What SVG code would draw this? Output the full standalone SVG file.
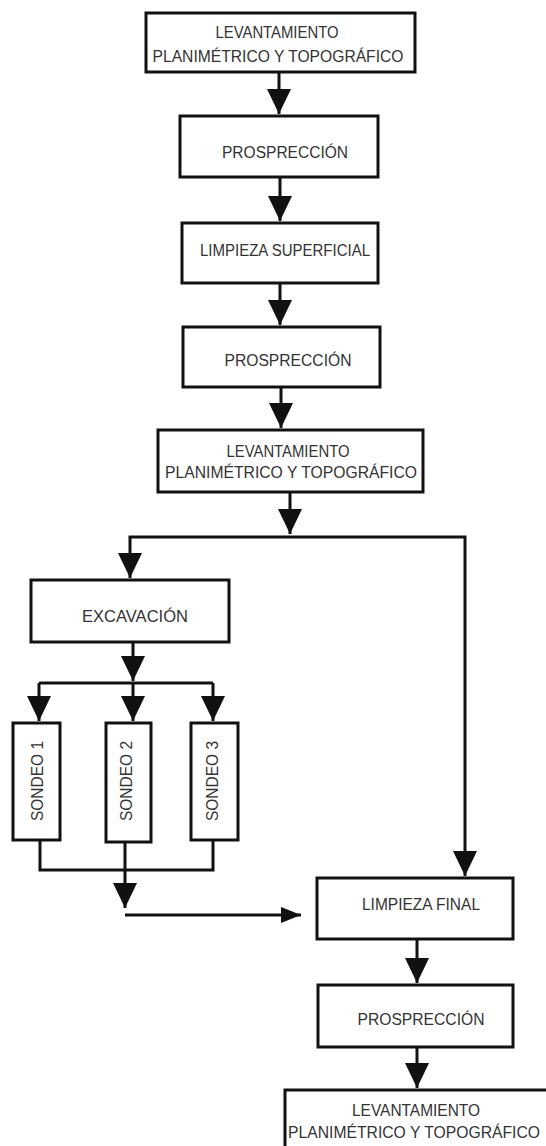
<svg xmlns="http://www.w3.org/2000/svg" width="546" height="1146" viewBox="0 0 546 1146">
  <style>
    .box { fill: #ffffff; stroke: #111111; stroke-width: 3; }
    .lbl { font-family: "Liberation Sans", Arial, sans-serif; font-size: 16px; fill: #333333; text-anchor: middle; }
    .con { fill: none; stroke: #111111; stroke-width: 3; }
  </style>
  <defs>
    <marker id="ah" viewBox="0 0 25 24" markerWidth="25" markerHeight="24" refX="25" refY="12" orient="auto" markerUnits="userSpaceOnUse">
      <path d="M0,0 L25,12 L0,24 Z" fill="#111111"/>
    </marker>
    <marker id="ahs" viewBox="0 0 20 16" markerWidth="20" markerHeight="16" refX="20" refY="8" orient="auto" markerUnits="userSpaceOnUse">
      <path d="M0,0 L20,8 L0,16 Z" fill="#111111"/>
    </marker>
  </defs>
  <rect width="546" height="1146" fill="#ffffff"/>

  <g id="connectors">
    <path class="con" d="M279,72 L279,114" marker-end="url(#ah)"/>
    <path class="con" d="M280,177 L280,221" marker-end="url(#ah)"/>
    <path class="con" d="M280,283 L280,325" marker-end="url(#ah)"/>
    <path class="con" d="M281,387 L281,428" marker-end="url(#ah)"/>
    <path class="con" d="M290,492 L290,534" marker-end="url(#ah)"/>
    <path class="con" d="M290,537 L130,537 L130,578" marker-end="url(#ah)"/>
    <path class="con" d="M290,537 L465,537 L465,876" marker-end="url(#ah)"/>
    <path class="con" d="M133,642 L133,681" marker-end="url(#ah)"/>
    <path class="con" d="M39,683 L213,683"/>
    <path class="con" d="M39,683 L39,721" marker-end="url(#ah)"/>
    <path class="con" d="M133,683 L133,721" marker-end="url(#ah)"/>
    <path class="con" d="M213,683 L213,721" marker-end="url(#ah)"/>
    <path class="con" d="M40,840 L40,870 L213,870 L213,840"/>
    <path class="con" d="M125,842 L125,908" marker-end="url(#ah)"/>
    <path class="con" d="M125,915 L301,915" marker-end="url(#ahs)"/>
    <path class="con" d="M417,939 L417,983" marker-end="url(#ah)"/>
    <path class="con" d="M417,1047 L417,1088" marker-end="url(#ah)"/>
  </g>

  <g id="n1">
    <rect class="box" x="146" y="13" width="269" height="59"/>
    <text class="lbl" x="277" y="38" textLength="123" lengthAdjust="spacingAndGlyphs">LEVANTAMIENTO</text>
    <text class="lbl" x="278" y="62" textLength="251" lengthAdjust="spacingAndGlyphs">PLANIMÉTRICO Y TOPOGRÁFICO</text>
  </g>
  <g id="n2">
    <rect class="box" x="180" y="116" width="198" height="61"/>
    <text class="lbl" x="285" y="158" textLength="126" lengthAdjust="spacingAndGlyphs">PROSPRECCIÓN</text>
  </g>
  <g id="n3">
    <rect class="box" x="182" y="223" width="196" height="60"/>
    <text class="lbl" x="285" y="256" textLength="170" lengthAdjust="spacingAndGlyphs">LIMPIEZA SUPERFICIAL</text>
  </g>
  <g id="n4">
    <rect class="box" x="183" y="327" width="197" height="60"/>
    <text class="lbl" x="288" y="366" textLength="127" lengthAdjust="spacingAndGlyphs">PROSPRECCIÓN</text>
  </g>
  <g id="n5">
    <rect class="box" x="158" y="430" width="265" height="62"/>
    <text class="lbl" x="288" y="457" textLength="123" lengthAdjust="spacingAndGlyphs">LEVANTAMIENTO</text>
    <text class="lbl" x="291" y="478" textLength="252" lengthAdjust="spacingAndGlyphs">PLANIMÉTRICO Y TOPOGRÁFICO</text>
  </g>
  <g id="n6">
    <rect class="box" x="31" y="580" width="198" height="62"/>
    <text class="lbl" x="135" y="622" textLength="106" lengthAdjust="spacingAndGlyphs">EXCAVACIÓN</text>
  </g>
  <g id="n7">
    <rect class="box" x="13" y="723" width="47" height="117"/>
    <text class="lbl" transform="translate(43,781) rotate(-90)" x="0" y="0" textLength="80" lengthAdjust="spacingAndGlyphs">SONDEO 1</text>
  </g>
  <g id="n8">
    <rect class="box" x="106" y="723" width="45" height="119"/>
    <text class="lbl" transform="translate(132,781) rotate(-90)" x="0" y="0" textLength="80" lengthAdjust="spacingAndGlyphs">SONDEO 2</text>
  </g>
  <g id="n9">
    <rect class="box" x="191" y="723" width="47" height="117"/>
    <text class="lbl" transform="translate(218,781) rotate(-90)" x="0" y="0" textLength="80" lengthAdjust="spacingAndGlyphs">SONDEO 3</text>
  </g>
  <g id="n10">
    <rect class="box" x="317" y="878" width="196" height="61"/>
    <text class="lbl" x="421" y="910" textLength="118" lengthAdjust="spacingAndGlyphs">LIMPIEZA FINAL</text>
  </g>
  <g id="n11">
    <rect class="box" x="318" y="985" width="195" height="62"/>
    <text class="lbl" x="421" y="1025" textLength="127" lengthAdjust="spacingAndGlyphs">PROSPRECCIÓN</text>
  </g>
  <g id="n12">
    <rect class="box" x="285" y="1090" width="275" height="70"/>
    <text class="lbl" x="416" y="1116" textLength="128" lengthAdjust="spacingAndGlyphs">LEVANTAMIENTO</text>
    <text class="lbl" x="414" y="1138" textLength="252" lengthAdjust="spacingAndGlyphs">PLANIMÉTRICO Y TOPOGRÁFICO</text>
  </g>
</svg>
